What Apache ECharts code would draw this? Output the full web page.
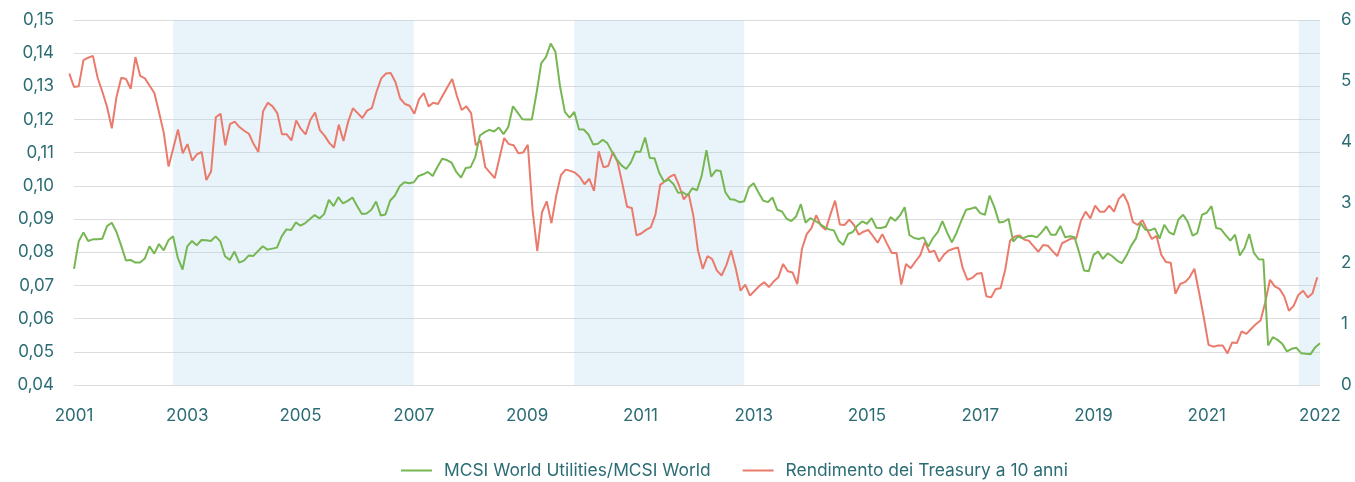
<!DOCTYPE html>
<html>
<head>
<meta charset="utf-8">
<title>Utilities vs Treasury</title>
<script src="https://cdn.jsdelivr.net/npm/echarts@6.0.0/dist/echarts.min.js"></script>
<style>
  html, body { margin: 0; padding: 0; background: #fff; }
  #chart { width: 1355px; height: 482px; }
</style>
</head>
<body>
<div id="chart"></div>
<script>
  // etichette asse x (una ogni 24 mesi)
  var xLabels = ['2001', '2003', '2005', '2007', '2009', '2011', '2013', '2015', '2017', '2019', '2021', '2022'];

  // MCSI World Utilities / MCSI World, mensile (asse sinistro)
  var utilities = [
    0.0750, 0.0833, 0.0860, 0.0834, 0.0839, 0.0839, 0.0841, 0.0879, 0.0889, 0.0861,
    0.0820, 0.0775, 0.0777, 0.0769, 0.0769, 0.0781, 0.0818, 0.0796, 0.0825, 0.0806,
    0.0836, 0.0848, 0.0783, 0.0748, 0.0818, 0.0834, 0.0821, 0.0837, 0.0836, 0.0834,
    0.0848, 0.0833, 0.0788, 0.0777, 0.0802, 0.0769, 0.0775, 0.0790, 0.0789, 0.0804,
    0.0818, 0.0808, 0.0811, 0.0814, 0.0848, 0.0869, 0.0867, 0.0890, 0.0880, 0.0888,
    0.0900, 0.0912, 0.0902, 0.0915, 0.0958, 0.0939, 0.0966, 0.0947, 0.0955, 0.0965,
    0.0939, 0.0915, 0.0917, 0.0928, 0.0953, 0.0911, 0.0914, 0.0956, 0.0971, 0.0999,
    0.1011, 0.1008, 0.1011, 0.1030, 0.1035, 0.1042, 0.1030, 0.1057, 0.1082, 0.1078,
    0.1070, 0.1042, 0.1025, 0.1054, 0.1056, 0.1086, 0.1152, 0.1162, 0.1169, 0.1164,
    0.1176, 0.1156, 0.1177, 0.1240, 0.1221, 0.1201, 0.1200, 0.1200, 0.1280, 0.1370,
    0.1388, 0.1429, 0.1404, 0.1298, 0.1223, 0.1206, 0.1223, 0.1170, 0.1170, 0.1155,
    0.1125, 0.1127, 0.1139, 0.1129, 0.1102, 0.1080, 0.1062, 0.1051, 0.1071, 0.1104,
    0.1102, 0.1146, 0.1084, 0.1083, 0.1039, 0.1013, 0.1019, 0.1006, 0.0979, 0.0981,
    0.0971, 0.0993, 0.0987, 0.1031, 0.1108, 0.1028, 0.1047, 0.1045, 0.0981, 0.0960,
    0.0958, 0.0951, 0.0954, 0.0996, 0.1008, 0.0981, 0.0956, 0.0951, 0.0965, 0.0928,
    0.0923, 0.0901, 0.0894, 0.0908, 0.0945, 0.0889, 0.0903, 0.0895, 0.0886, 0.0876,
    0.0869, 0.0866, 0.0835, 0.0822, 0.0855, 0.0861, 0.0881, 0.0893, 0.0886, 0.0903,
    0.0874, 0.0873, 0.0877, 0.0906, 0.0895, 0.0911, 0.0936, 0.0852, 0.0843, 0.0840,
    0.0845, 0.0817, 0.0843, 0.0861, 0.0894, 0.0859, 0.0830, 0.0859, 0.0895, 0.0928,
    0.0931, 0.0936, 0.0918, 0.0913, 0.0971, 0.0936, 0.0890, 0.0892, 0.0901, 0.0832,
    0.0848, 0.0842, 0.0848, 0.0850, 0.0845, 0.0860, 0.0878, 0.0853, 0.0853, 0.0879,
    0.0845, 0.0848, 0.0845, 0.0798, 0.0745, 0.0743, 0.0792, 0.0802, 0.0780, 0.0797,
    0.0788, 0.0775, 0.0767, 0.0790, 0.0820, 0.0842, 0.0888, 0.0868, 0.0866, 0.0872,
    0.0841, 0.0883, 0.0861, 0.0853, 0.0899, 0.0913, 0.0891, 0.0850, 0.0858, 0.0913,
    0.0919, 0.0939, 0.0873, 0.0870, 0.0852, 0.0835, 0.0853, 0.0790, 0.0813, 0.0855,
    0.0798, 0.0779, 0.0778, 0.0519, 0.0544, 0.0536, 0.0524, 0.0501, 0.0509, 0.0512,
    0.0496, 0.0494, 0.0493, 0.0514, 0.0526
  ];

  // Rendimento Treasury 10 anni (asse destro), parte un mese prima (dicembre 2000)
  var treasury = [
    5.12, 4.90, 4.91, 5.34, 5.38, 5.41, 5.05, 4.82, 4.57, 4.22,
    4.74, 5.05, 5.03, 4.87, 5.39, 5.08, 5.04, 4.92, 4.80, 4.48,
    4.14, 3.59, 3.89, 4.20, 3.81, 3.96, 3.69, 3.79, 3.83, 3.37,
    3.51, 4.40, 4.46, 3.94, 4.29, 4.33, 4.24, 4.18, 4.13, 3.96,
    3.83, 4.50, 4.64, 4.58, 4.47, 4.12, 4.12, 4.02, 4.35, 4.21,
    4.12, 4.36, 4.48, 4.19, 4.10, 3.98, 3.90, 4.28, 4.01, 4.33,
    4.55, 4.47, 4.39, 4.51, 4.55, 4.82, 5.04, 5.12, 5.13, 4.98,
    4.71, 4.62, 4.59, 4.46, 4.70, 4.80, 4.58, 4.64, 4.62, 4.76,
    4.90, 5.03, 4.75, 4.52, 4.58, 4.47, 3.94, 4.02, 3.58, 3.49,
    3.40, 3.73, 4.06, 3.96, 3.94, 3.81, 3.82, 3.95, 2.88, 2.20,
    2.84, 3.02, 2.66, 3.11, 3.45, 3.54, 3.52, 3.49, 3.42, 3.30,
    3.39, 3.19, 3.84, 3.58, 3.60, 3.83, 3.66, 3.31, 2.93, 2.91,
    2.46, 2.49, 2.55, 2.59, 2.80, 3.29, 3.35, 3.42, 3.46, 3.28,
    3.05, 3.15, 2.79, 2.21, 1.91, 2.12, 2.07, 1.88, 1.80, 1.97,
    2.21, 1.91, 1.55, 1.65, 1.47, 1.55, 1.63, 1.69, 1.61, 1.70,
    1.77, 1.99, 1.87, 1.85, 1.66, 2.24, 2.48, 2.58, 2.79, 2.62,
    2.55, 2.80, 3.03, 2.64, 2.63, 2.72, 2.63, 2.47, 2.52, 2.55,
    2.45, 2.34, 2.48, 2.32, 2.17, 2.17, 1.65, 1.99, 1.92, 2.03,
    2.13, 2.35, 2.18, 2.21, 2.03, 2.14, 2.21, 2.24, 2.26, 1.92,
    1.73, 1.76, 1.83, 1.84, 1.46, 1.44, 1.58, 1.59, 1.90, 2.37,
    2.44, 2.46, 2.39, 2.37, 2.28, 2.19, 2.30, 2.29, 2.20, 2.12,
    2.33, 2.37, 2.41, 2.41, 2.70, 2.85, 2.74, 2.95, 2.85, 2.85,
    2.95, 2.85, 3.06, 3.14, 2.98, 2.68, 2.63, 2.71, 2.55, 2.40,
    2.45, 2.14, 2.02, 2.01, 1.50, 1.66, 1.69, 1.77, 1.91, 1.52,
    1.11, 0.66, 0.63, 0.65, 0.65, 0.52, 0.70, 0.69, 0.88, 0.84,
    0.92, 1.00, 1.06, 1.36, 1.73, 1.62, 1.58, 1.46, 1.22, 1.30,
    1.48, 1.55, 1.44, 1.51, 1.77
  ];

  // periodi evidenziati (in mesi da gennaio 2001)
  var shadeStart = [21, 106, 259.5];
  var shadeEnd = [72, 142, 264];

  var textColor = '#2b6c75';
  var font = 'Inter';
  var step = (1355 - 74 - 33) / 264; // un mese in px

  var chart = echarts.init(document.getElementById('chart'));

  var areas = shadeStart.map(function (s, k) {
    return [{ xAxis: s }, { xAxis: shadeEnd[k] }];
  });

  var option = {
    animation: false,
    textStyle: { fontFamily: font },
    grid: [
      { left: 74, right: 33, top: 20, bottom: 97 },
      // stessa scala, spostata di un mese: il Treasury inizia a dicembre 2000
      { left: 74 - step, right: 33 + step, top: 20, bottom: 97 }
    ],
    legend: {
      data: ['MCSI World Utilities/MCSI World', 'Rendimento dei Treasury a 10 anni'],
      top: 457,
      left: 396,
      icon: 'rect',
      itemWidth: 31,
      itemHeight: 2,
      itemGap: 32,
      textStyle: { color: textColor, fontSize: 17.4, fontFamily: font, padding: [0, 0, 0, 7] }
    },
    xAxis: [
      {
        type: 'value',
        gridIndex: 0,
        min: 0,
        max: 264,
        interval: 24,
        axisLine: { show: false },
        axisTick: { show: false },
        splitLine: { show: false },
        axisLabel: {
          color: textColor,
          fontSize: 17,
          margin: 22,
          formatter: function (v) { return xLabels[Math.round(v / 24)]; }
        }
      },
      {
        type: 'value',
        gridIndex: 1,
        min: -1,
        max: 263,
        show: false
      }
    ],
    yAxis: [
      {
        type: 'value',
        gridIndex: 0,
        min: 0.04,
        max: 0.15,
        interval: 0.01,
        axisLine: { show: false },
        axisTick: { show: false },
        splitLine: { lineStyle: { color: '#dcdcdc', width: 1 } },
        axisLabel: {
          color: textColor,
          fontSize: 17,
          margin: 20,
          formatter: function (v) { return v.toFixed(2).replace('.', ','); }
        }
      },
      {
        type: 'value',
        gridIndex: 0,
        min: 0,
        max: 6,
        interval: 1,
        axisLine: { show: false },
        axisTick: { show: false },
        splitLine: { show: false },
        axisLabel: { color: textColor, fontSize: 17, margin: 21 }
      },
      {
        type: 'value',
        gridIndex: 1,
        min: 0,
        max: 6,
        show: false,
        splitLine: { show: false }
      }
    ],
    series: [
      {
        // solo per le bande azzurre
        type: 'line',
        xAxisIndex: 0,
        yAxisIndex: 0,
        data: [],
        silent: true,
        z: 1,
        markArea: {
          silent: true,
          itemStyle: { color: 'rgba(170, 214, 234, 0.26)' },
          data: areas
        }
      },
      {
        name: 'MCSI World Utilities/MCSI World',
        type: 'line',
        xAxisIndex: 0,
        yAxisIndex: 0,
        showSymbol: false,
        color: '#77b753',
        lineStyle: { width: 2, color: '#77b753' },
        z: 3,
        data: utilities.map(function (v, i) { return [i, v]; })
      },
      {
        name: 'Rendimento dei Treasury a 10 anni',
        type: 'line',
        xAxisIndex: 1,
        yAxisIndex: 2,
        showSymbol: false,
        color: '#ea7b6c',
        lineStyle: { width: 2, color: '#ea7b6c' },
        z: 2,
        data: treasury.map(function (v, i) { return [i - 1, v]; })
      }
    ]
  };

  chart.setOption(option);
</script>
</body>
</html>
